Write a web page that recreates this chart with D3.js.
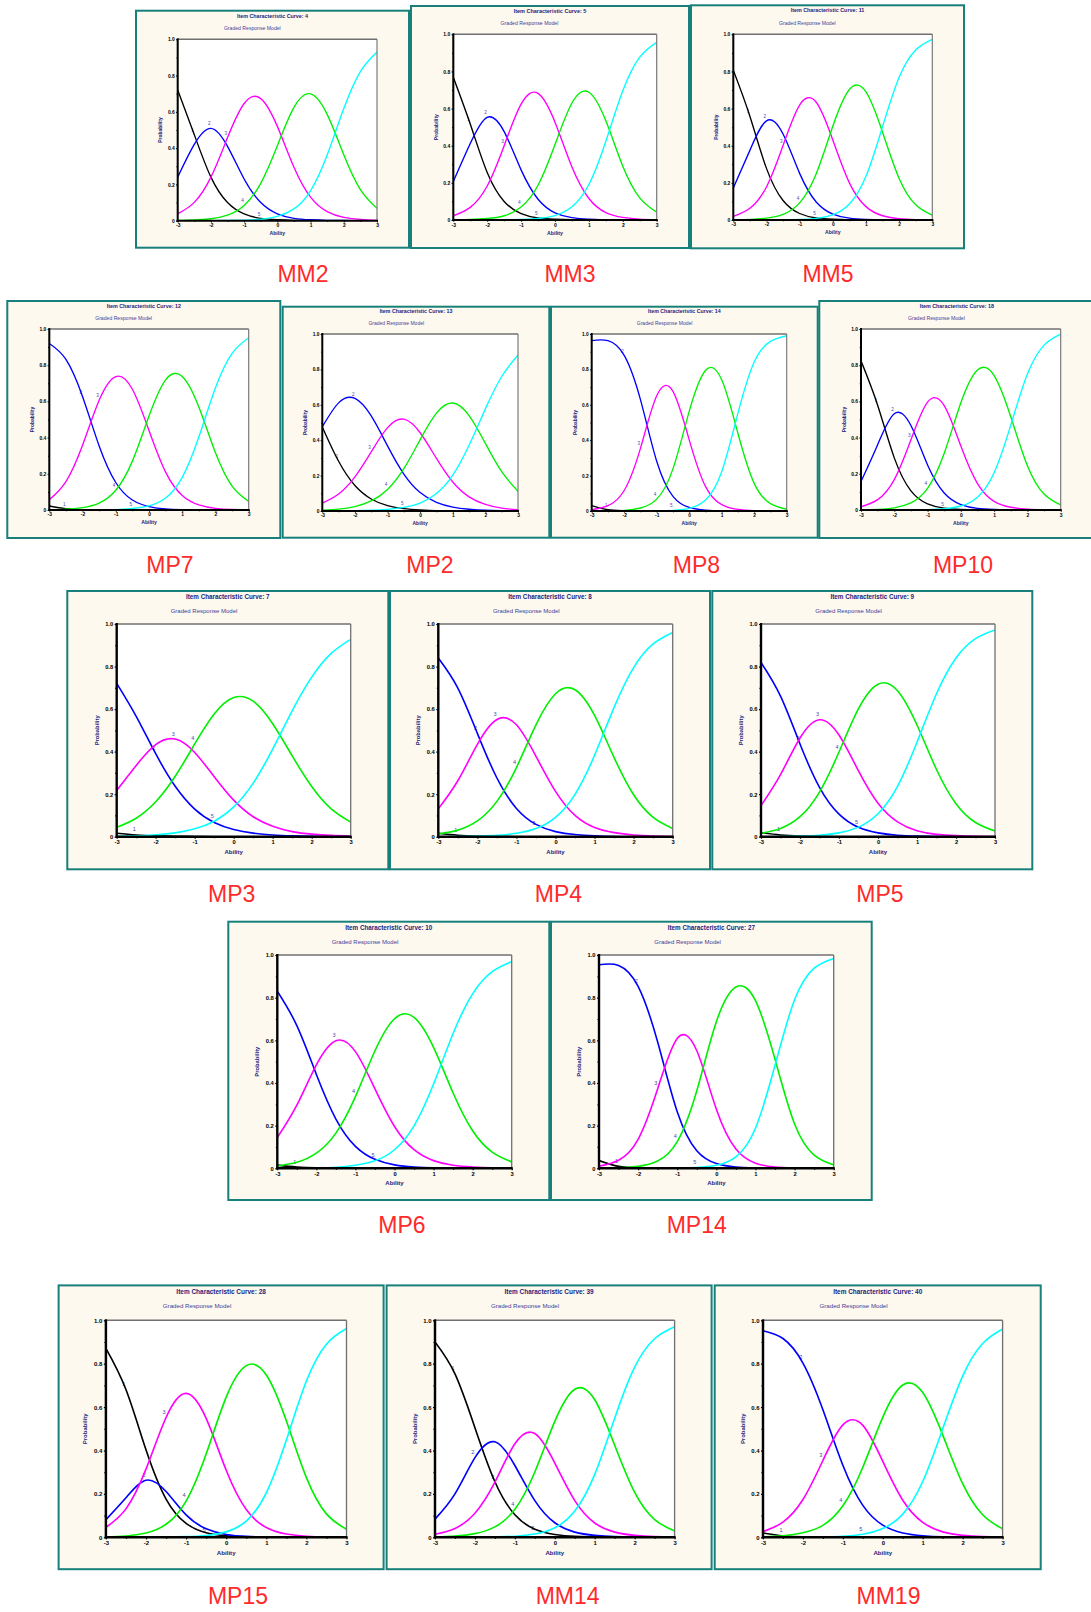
<!DOCTYPE html>
<html>
<head>
<meta charset="utf-8">
<script src="https://cdn.jsdelivr.net/npm/d3@7"></script>
<style>
  body { margin: 0; background: #fff; }
  svg { display: block; }
</style>
</head>
<body>
<div id="graph"></div>
<script>
// ability grid (x) and axis ticks
const theta = [-3, -2.5, -2, -1.5, -1, -0.5, 0, 0.5, 1, 1.5, 2, 2.5, 3];
const xTicks = [-3, -2, -1, 0, 1, 2, 3];
const xMinor = [-2.5, -1.5, -0.5, 0.5, 1.5, 2.5];
const yTicks = [0, 0.2, 0.4, 0.6, 0.8, 1.0];
const yMinor = [0.1, 0.3, 0.5, 0.7, 0.9];
const categories = ["1", "2", "3", "4", "5"];

const panelNames = ["MM2", "MM3", "MM5", "MP7", "MP2", "MP8", "MP10", "MP3", "MP4", "MP5", "MP6", "MP14", "MP15", "MM14", "MM19"];
const itemNumbers = [4, 5, 11, 12, 13, 14, 18, 7, 8, 9, 10, 27, 28, 39, 40];

// probability of each response category (1..5) read at every theta
const mm2 = [
  [0.721, 0.474, 0.240, 0.100, 0.037, 0.013, 0.005, 0.002, 0.001, 0, 0, 0, 0],
  [0.240, 0.421, 0.509, 0.410, 0.230, 0.100, 0.038, 0.013, 0.005, 0.002, 0.001, 0, 0],
  [0.038, 0.101, 0.240, 0.458, 0.646, 0.673, 0.520, 0.295, 0.130, 0.050, 0.018, 0.007, 0.002],
  [0.001, 0.004, 0.011, 0.031, 0.084, 0.206, 0.413, 0.625, 0.699, 0.586, 0.363, 0.171, 0.068],
  [0, 0, 0, 0.001, 0.003, 0.008, 0.024, 0.065, 0.165, 0.362, 0.618, 0.822, 0.930]
];
const mm3 = [
  [0.769, 0.517, 0.256, 0.100, 0.034, 0.011, 0.004, 0.001, 0, 0, 0, 0, 0],
  [0.207, 0.412, 0.553, 0.476, 0.270, 0.112, 0.039, 0.013, 0.005, 0.002, 0, 0, 0],
  [0.023, 0.068, 0.183, 0.400, 0.624, 0.682, 0.527, 0.285, 0.116, 0.040, 0.014, 0.005, 0.002],
  [0.001, 0.003, 0.008, 0.023, 0.070, 0.187, 0.406, 0.630, 0.688, 0.534, 0.290, 0.119, 0.042],
  [0, 0, 0, 0.001, 0.003, 0.008, 0.024, 0.071, 0.191, 0.424, 0.696, 0.877, 0.957]
];
const mm5 = [
  [0.807, 0.559, 0.278, 0.105, 0.035, 0.011, 0.004, 0.001, 0, 0, 0, 0, 0],
  [0.172, 0.375, 0.534, 0.463, 0.251, 0.097, 0.032, 0.010, 0.003, 0, 0, 0, 0],
  [0.020, 0.063, 0.178, 0.401, 0.619, 0.634, 0.431, 0.200, 0.072, 0.023, 0.007, 0.002, 0.001],
  [0.001, 0.003, 0.010, 0.030, 0.092, 0.249, 0.505, 0.703, 0.690, 0.473, 0.224, 0.082, 0.026],
  [0, 0, 0, 0.001, 0.003, 0.009, 0.028, 0.086, 0.235, 0.503, 0.769, 0.916, 0.973]
];
const mp7 = [
  [0.022, 0.007, 0.002, 0.001, 0, 0, 0, 0, 0, 0, 0, 0, 0],
  [0.920, 0.832, 0.627, 0.354, 0.152, 0.055, 0.019, 0.006, 0.002, 0, 0, 0, 0],
  [0.057, 0.157, 0.358, 0.606, 0.737, 0.667, 0.439, 0.209, 0.080, 0.028, 0.009, 0.003, 0.001],
  [0.001, 0.004, 0.013, 0.038, 0.109, 0.270, 0.519, 0.719, 0.738, 0.569, 0.316, 0.132, 0.047],
  [0, 0, 0, 0.001, 0.002, 0.008, 0.023, 0.066, 0.180, 0.403, 0.675, 0.865, 0.952]
];
const mp2 = [
  [0.475, 0.281, 0.144, 0.068, 0.030, 0.013, 0.006, 0.002, 0.001, 0, 0, 0, 0],
  [0.475, 0.611, 0.636, 0.537, 0.368, 0.209, 0.104, 0.049, 0.022, 0.010, 0.004, 0.002, 0.001],
  [0.045, 0.096, 0.193, 0.334, 0.471, 0.519, 0.442, 0.297, 0.164, 0.080, 0.037, 0.016, 0.007],
  [0.005, 0.011, 0.025, 0.057, 0.122, 0.239, 0.403, 0.553, 0.610, 0.539, 0.382, 0.222, 0.112],
  [0, 0.001, 0.002, 0.004, 0.009, 0.020, 0.045, 0.099, 0.203, 0.371, 0.577, 0.760, 0.880]
];
const mp8 = [
  [0.030, 0.007, 0.002, 0, 0, 0, 0, 0, 0, 0, 0, 0, 0],
  [0.963, 0.962, 0.879, 0.629, 0.281, 0.083, 0.020, 0.005, 0.001, 0, 0, 0, 0],
  [0.007, 0.030, 0.116, 0.354, 0.651, 0.676, 0.402, 0.139, 0.036, 0.009, 0.002, 0, 0],
  [0, 0.001, 0.004, 0.017, 0.067, 0.238, 0.563, 0.794, 0.741, 0.438, 0.156, 0.042, 0.010],
  [0, 0, 0, 0, 0.001, 0.004, 0.015, 0.062, 0.222, 0.553, 0.842, 0.958, 0.990]
];
const mp10 = [
  [0.824, 0.579, 0.288, 0.106, 0.034, 0.010, 0.003, 0.001, 0, 0, 0, 0, 0],
  [0.157, 0.361, 0.532, 0.467, 0.249, 0.094, 0.030, 0.009, 0.003, 0, 0, 0, 0],
  [0.018, 0.057, 0.168, 0.388, 0.596, 0.577, 0.353, 0.146, 0.048, 0.015, 0.005, 0.002, 0],
  [0.001, 0.003, 0.012, 0.039, 0.119, 0.313, 0.592, 0.773, 0.743, 0.515, 0.245, 0.088, 0.028],
  [0, 0, 0, 0, 0.002, 0.007, 0.022, 0.071, 0.206, 0.469, 0.751, 0.911, 0.972]
];
const mp3 = [
  [0.016, 0.008, 0.004, 0.002, 0.001, 0, 0, 0, 0, 0, 0, 0, 0],
  [0.721, 0.566, 0.390, 0.237, 0.130, 0.067, 0.034, 0.017, 0.008, 0.004, 0.002, 0.001, 0],
  [0.217, 0.335, 0.433, 0.459, 0.396, 0.282, 0.172, 0.094, 0.049, 0.024, 0.012, 0.006, 0.003],
  [0.044, 0.087, 0.164, 0.284, 0.436, 0.577, 0.654, 0.637, 0.531, 0.380, 0.236, 0.131, 0.069],
  [0.002, 0.004, 0.009, 0.018, 0.037, 0.073, 0.140, 0.252, 0.412, 0.592, 0.750, 0.862, 0.928]
];
const mp4 = [
  [0.016, 0.007, 0.003, 0.001, 0, 0, 0, 0, 0, 0, 0, 0, 0],
  [0.840, 0.699, 0.486, 0.276, 0.133, 0.058, 0.024, 0.010, 0.004, 0.001, 0, 0, 0],
  [0.131, 0.263, 0.434, 0.551, 0.526, 0.378, 0.213, 0.100, 0.043, 0.019, 0.008, 0.003, 0.001],
  [0.013, 0.031, 0.074, 0.166, 0.325, 0.526, 0.672, 0.691, 0.570, 0.372, 0.197, 0.091, 0.039],
  [0, 0.001, 0.003, 0.006, 0.016, 0.038, 0.091, 0.199, 0.383, 0.608, 0.795, 0.906, 0.960]
];
const mp5 = [
  [0.019, 0.008, 0.003, 0.001, 0, 0, 0, 0, 0, 0, 0, 0, 0],
  [0.819, 0.661, 0.436, 0.232, 0.106, 0.044, 0.018, 0.007, 0.003, 0.001, 0, 0, 0],
  [0.146, 0.292, 0.464, 0.550, 0.478, 0.309, 0.157, 0.070, 0.028, 0.011, 0.005, 0.002, 0.001],
  [0.016, 0.039, 0.094, 0.210, 0.398, 0.602, 0.717, 0.686, 0.525, 0.316, 0.155, 0.067, 0.027],
  [0, 0.001, 0.003, 0.007, 0.018, 0.045, 0.108, 0.237, 0.444, 0.672, 0.840, 0.931, 0.972]
];
const mp6 = [
  [0.015, 0.006, 0.002, 0.001, 0, 0, 0, 0, 0, 0, 0, 0, 0],
  [0.830, 0.669, 0.440, 0.231, 0.103, 0.042, 0.016, 0.006, 0.002, 0.001, 0, 0, 0],
  [0.144, 0.296, 0.485, 0.598, 0.547, 0.372, 0.196, 0.087, 0.036, 0.014, 0.006, 0.002, 0.001],
  [0.011, 0.028, 0.071, 0.165, 0.336, 0.551, 0.701, 0.708, 0.567, 0.353, 0.176, 0.076, 0.030],
  [0, 0.001, 0.002, 0.005, 0.014, 0.035, 0.087, 0.199, 0.395, 0.632, 0.818, 0.922, 0.969]
];
const mp14 = [
  [0.036, 0.009, 0.002, 0.001, 0, 0, 0, 0, 0, 0, 0, 0, 0],
  [0.954, 0.951, 0.853, 0.592, 0.265, 0.082, 0.022, 0.006, 0.002, 0, 0, 0, 0],
  [0.010, 0.038, 0.136, 0.373, 0.609, 0.551, 0.277, 0.090, 0.024, 0.006, 0.002, 0, 0],
  [0, 0.002, 0.009, 0.034, 0.125, 0.364, 0.687, 0.850, 0.786, 0.511, 0.208, 0.062, 0.016],
  [0, 0, 0, 0, 0.001, 0.004, 0.014, 0.054, 0.188, 0.483, 0.790, 0.938, 0.984]
];
const mp15 = [
  [0.871, 0.681, 0.403, 0.176, 0.064, 0.021, 0.007, 0.002, 0.001, 0, 0, 0, 0],
  [0.081, 0.182, 0.263, 0.211, 0.103, 0.039, 0.013, 0.004, 0.001, 0, 0, 0, 0],
  [0.046, 0.131, 0.314, 0.552, 0.663, 0.548, 0.309, 0.128, 0.045, 0.015, 0.005, 0.002, 0.001],
  [0.002, 0.006, 0.020, 0.060, 0.167, 0.384, 0.646, 0.791, 0.748, 0.537, 0.275, 0.108, 0.037],
  [0, 0, 0, 0.001, 0.003, 0.008, 0.025, 0.075, 0.205, 0.448, 0.720, 0.890, 0.962]
];
const mm14 = [
  [0.900, 0.753, 0.505, 0.256, 0.104, 0.037, 0.013, 0.004, 0.002, 0, 0, 0, 0],
  [0.084, 0.200, 0.367, 0.440, 0.331, 0.169, 0.067, 0.024, 0.009, 0.003, 0.001, 0, 0],
  [0.014, 0.041, 0.111, 0.254, 0.431, 0.478, 0.342, 0.169, 0.066, 0.024, 0.009, 0.003, 0.001],
  [0.002, 0.006, 0.017, 0.048, 0.129, 0.301, 0.534, 0.682, 0.634, 0.424, 0.207, 0.082, 0.029],
  [0, 0, 0, 0.002, 0.005, 0.015, 0.044, 0.121, 0.290, 0.549, 0.784, 0.915, 0.970]
];
const mm19 = [
  [0.020, 0.007, 0.002, 0.001, 0, 0, 0, 0, 0, 0, 0, 0, 0],
  [0.952, 0.916, 0.803, 0.588, 0.332, 0.147, 0.056, 0.020, 0.007, 0.002, 0.001, 0, 0],
  [0.026, 0.070, 0.174, 0.354, 0.518, 0.516, 0.350, 0.171, 0.069, 0.025, 0.009, 0.003, 0.001],
  [0.002, 0.007, 0.021, 0.055, 0.145, 0.323, 0.554, 0.702, 0.667, 0.472, 0.247, 0.104, 0.039],
  [0, 0, 0, 0.002, 0.005, 0.014, 0.040, 0.107, 0.257, 0.500, 0.743, 0.893, 0.960]
];
const curveSets = [mm2, mm3, mm5, mp7, mp2, mp8, mp10, mp3, mp4, mp5, mp6, mp14, mp15, mm14, mm19];

// page layout: frame box, plot box (x0,y0,x1,y1), caption centre + baseline
const layout = [
  { frame: [136, 10.7, 273, 237], plot: [177.7, 39.3, 377, 220.7], cap: [303, 281.5] },
  { frame: [411, 6, 278, 242], plot: [453.3, 34.3, 656.7, 220], cap: [570, 281.5] },
  { frame: [691, 5.3, 273, 243], plot: [733.3, 34.3, 932.3, 220], cap: [828, 281.5] },
  { frame: [7.3, 301, 273, 237], plot: [49.3, 329, 248.7, 510], cap: [170, 572.5] },
  { frame: [282.7, 306.7, 266.6, 231], plot: [322.3, 334, 518, 511], cap: [430, 572.5] },
  { frame: [551, 306.7, 266.7, 231], plot: [591.7, 334, 786.7, 511], cap: [696.5, 572.5] },
  { frame: [819.3, 301, 275, 237], plot: [861, 329, 1060.7, 510], cap: [963, 572.5] },
  { frame: [67.3, 591, 321, 278.3], plot: [116.7, 624, 350.7, 836.7], cap: [231.7, 901.5] },
  { frame: [390, 591, 320, 278.3], plot: [438.3, 624, 672.7, 836.7], cap: [558.5, 901.5] },
  { frame: [712.3, 591, 320, 278.3], plot: [761, 624, 995, 836.7], cap: [880, 901.5] },
  { frame: [228.3, 921.7, 321, 278.3], plot: [277.3, 955, 511.7, 1168.3], cap: [402, 1233.3] },
  { frame: [551, 921.7, 320.7, 278.3], plot: [599, 955, 833.7, 1168.3], cap: [696.7, 1233.3] },
  { frame: [58.6, 1285.4, 325, 283.8], plot: [105.9, 1320.3, 346.5, 1537.3], cap: [238, 1604] },
  { frame: [386.6, 1285.4, 325, 283.8], plot: [435, 1320.3, 674.6, 1537.3], cap: [567.6, 1604] },
  { frame: [714.7, 1285.4, 326, 283.8], plot: [763, 1320.3, 1002.6, 1537.3], cap: [888.5, 1604] }
];

const colors = ["#000000", "#0000ff", "#ff00ff", "#00f000", "#00ffff"];
const navy = "#23237d";

const svg = d3.select("#graph").append("svg")
    .attr("width", 1091)
    .attr("height", 1612);

function drawPanel(i) {
    const L = layout[i];
    const [fx, fy, fw, fh] = L.frame;
    const [px0, py0, px1, py1] = L.plot;
    const s = (px1 - px0) / 234;
    const g = svg.append("g");

    g.append("rect")
        .attr("x", fx).attr("y", fy)
        .attr("width", fw).attr("height", fh)
        .attr("fill", "#fdf9ee")
        .attr("stroke", "#17807a")
        .attr("stroke-width", 2);

    // titles
    g.append("text")
        .attr("x", fx + fw / 2)
        .attr("y", fy + 0.021 * fh + 2.3 * s)
        .attr("text-anchor", "middle")
        .attr("font-family", "Liberation Sans, Arial, sans-serif")
        .attr("font-weight", "bold")
        .attr("font-size", 6.3 * s)
        .attr("fill", navy)
        .text("Item Characteristic Curve: " + itemNumbers[i]);

    g.append("text")
        .attr("x", fx + fw / 2 - 0.074 * fw)
        .attr("y", fy + 0.072 * fh + 2.2 * s)
        .attr("text-anchor", "middle")
        .attr("font-family", "Liberation Sans, Arial, sans-serif")
        .attr("font-size", 6 * s)
        .attr("fill", "#3d3d9a")
        .text("Graded Response Model");

    const x = d3.scaleLinear().domain([-3, 3]).range([px0, px1]);
    const y = d3.scaleLinear().domain([0, 1]).range([py1, py0]);

    g.append("rect")
        .attr("x", px0).attr("y", py0)
        .attr("width", px1 - px0).attr("height", py1 - py0)
        .attr("fill", "#fff");

    const clipId = "clip" + i;
    g.append("clipPath").attr("id", clipId)
        .append("rect")
        .attr("x", px0).attr("y", py0 - 2)
        .attr("width", px1 - px0).attr("height", py1 - py0 + 2);

    const curves = curveSets[i];

    // category numbers sit just above their curve, under the lines
    g.append("g").selectAll("text")
        .data(categories)
        .join("text")
        .attr("x", (c, k) => x(theta[k + 1] - 0.05))
        .attr("y", (c, k) => y(curves[k][k + 1]) - 3.5 * s)
        .attr("text-anchor", "middle")
        .attr("font-family", "Liberation Sans, Arial, sans-serif")
        .attr("font-size", 5.5 * s)
        .attr("fill", "#4a4aa8")
        .text(c => c);

    const line = d3.line()
        .x((d, j) => x(theta[j]))
        .y(d => y(d))
        .curve(d3.curveNatural);

    g.append("g").attr("clip-path", `url(#${clipId})`)
        .selectAll("path")
        .data(curves)
        .join("path")
        .attr("d", line)
        .attr("fill", "none")
        .attr("stroke", (d, k) => colors[k])
        .attr("stroke-width", 1.6 * s);

    // plot frame: grey top/right, black axes
    g.append("line")
        .attr("x1", px0).attr("y1", py0).attr("x2", px1).attr("y2", py0)
        .attr("stroke", "#707070").attr("stroke-width", 1.6 * s);
    g.append("line")
        .attr("x1", px1).attr("y1", py0).attr("x2", px1).attr("y2", py1)
        .attr("stroke", "#707070").attr("stroke-width", 1.3 * s);

    const yAxis = g.append("g")
        .attr("transform", `translate(${px0},0)`)
        .call(d3.axisLeft(y).tickValues(yTicks).tickSize(2 * s).tickPadding(1.5 * s)
            .tickFormat(d => d === 0 ? "0" : d3.format(".1f")(d)));
    g.append("g")
        .attr("transform", `translate(${px0},0)`)
        .call(d3.axisLeft(y).tickValues(yMinor).tickSize(1.5 * s).tickFormat(""));

    const xAxis = g.append("g")
        .attr("transform", `translate(0,${py1})`)
        .call(d3.axisBottom(x).tickValues(xTicks).tickSize(2 * s).tickPadding(1.5 * s)
            .tickFormat(d => String(d)));
    g.append("g")
        .attr("transform", `translate(0,${py1})`)
        .call(d3.axisBottom(x).tickValues(xMinor).tickSize(1.5 * s).tickFormat(""));

    g.selectAll(".domain").remove();
    g.selectAll(".tick line").attr("stroke", "#000").attr("stroke-width", 1.2 * s);
    [yAxis, xAxis].forEach(a => a.selectAll("text")
        .attr("font-family", "Liberation Sans, Arial, sans-serif")
        .attr("font-weight", "bold")
        .attr("font-size", 5.8 * s)
        .attr("fill", "#000"));

    g.append("line")
        .attr("x1", px0).attr("y1", py0 - 1).attr("x2", px0).attr("y2", py1 + 1)
        .attr("stroke", "#000").attr("stroke-width", 2.4 * s);
    g.append("line")
        .attr("x1", px0 - 1).attr("y1", py1).attr("x2", px1 + 1).attr("y2", py1)
        .attr("stroke", "#000").attr("stroke-width", 2.4 * s);

    // axis titles
    g.append("text")
        .attr("x", (px0 + px1) / 2)
        .attr("y", py1 + 17 * s)
        .attr("text-anchor", "middle")
        .attr("font-family", "Liberation Sans, Arial, sans-serif")
        .attr("font-weight", "bold")
        .attr("font-size", 6 * s)
        .attr("fill", navy)
        .text("Ability");

    g.append("text")
        .attr("transform", `translate(${px0 - 18 * s},${(py0 + py1) / 2}) rotate(-90)`)
        .attr("text-anchor", "middle")
        .attr("font-family", "Liberation Sans, Arial, sans-serif")
        .attr("font-weight", "bold")
        .attr("font-size", 5.8 * s)
        .attr("fill", navy)
        .text("Probability");

    // red caption under the panel
    svg.append("text")
        .attr("x", L.cap[0])
        .attr("y", L.cap[1])
        .attr("text-anchor", "middle")
        .attr("font-family", "Liberation Sans, Arial, sans-serif")
        .attr("font-size", 23)
        .attr("fill", "#ff2a2a")
        .text(panelNames[i]);
}

panelNames.forEach((name, i) => drawPanel(i));
</script>
</body>
</html>
